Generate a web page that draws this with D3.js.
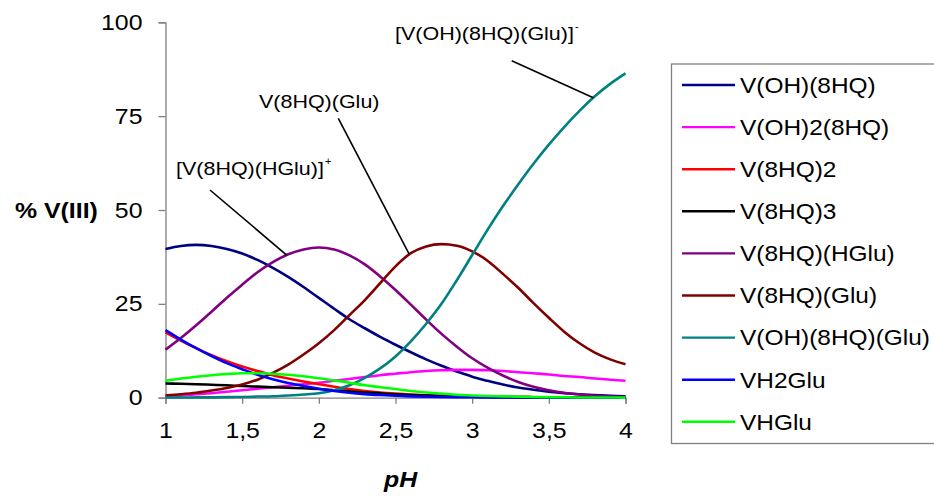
<!DOCTYPE html>
<html>
<head>
<meta charset="utf-8">
<script src="https://cdn.jsdelivr.net/npm/d3@7"></script>
<style>
  body { margin: 0; background: #fff; }
  svg { display: block; }
  text { font-family: "Liberation Sans", Arial, sans-serif; fill: #000; }
</style>
</head>
<body>
<svg id="chart" width="934" height="498"></svg>
<script>
// ---- data ----
const pH = [1.0,1.1,1.2,1.3,1.4,1.5,1.6,1.7,1.8,1.9,2.0,2.1,2.2,2.3,2.4,2.5,2.6,2.7,2.8,2.9,3.0,3.1,3.2,3.3,3.4,3.5,3.6,3.7,3.8,3.9,4.0];

const vOH8HQ      = [39.6,40.4,40.7,40.4,39.6,38.4,36.7,34.6,32.2,29.5,26.6,23.7,20.9,18.5,16.2,14.1,12.1,10.2,8.5,7.0,5.6,4.5,3.5,2.7,2.1,1.6,1.2,0.9,0.7,0.5,0.4];
const vOH2_8HQ    = [0.4,0.6,0.9,1.2,1.6,2.0,2.4,2.8,3.2,3.6,4.0,4.5,5.0,5.5,6.0,6.4,6.8,7.1,7.3,7.4,7.4,7.3,7.1,6.8,6.5,6.2,5.8,5.5,5.1,4.8,4.5];
const v8HQ2       = [17.4,15.2,13.2,11.3,9.7,8.3,7.1,6.0,5.1,4.3,3.6,2.9,2.3,1.8,1.4,1.1,0.85,0.65,0.5,0.4,0.3,0.25,0.2,0.16,0.13,0.1,0.08,0.07,0.06,0.05,0.05];
const v8HQ3       = [3.8,3.7,3.6,3.45,3.3,3.1,2.95,2.8,2.65,2.5,2.3,2.0,1.7,1.4,1.15,0.9,0.7,0.55,0.45,0.37,0.3,0.25,0.2,0.16,0.13,0.1,0.08,0.06,0.05,0.04,0.03];
const v8HQHGlu    = [12.8,15.9,19.3,22.9,26.6,30.1,33.4,36.1,38.2,39.5,40.0,39.5,37.9,35.5,32.3,28.7,24.8,20.8,17.0,13.6,10.5,8.0,5.9,4.2,2.9,2.0,1.3,0.85,0.53,0.33,0.2];
const v8HQGlu     = [0.6,0.9,1.3,1.9,2.6,3.5,4.8,6.6,8.8,11.5,14.5,18.0,22.0,26.0,30.5,35.0,38.5,40.3,40.9,40.5,39.0,36.5,33.0,29.3,25.2,21.3,17.6,14.5,12.0,10.2,8.9];
const vOH8HQGlu   = [0.05,0.06,0.08,0.1,0.14,0.2,0.3,0.4,0.6,0.85,1.2,2.0,3.3,5.3,7.8,11.0,15.0,19.7,25.0,31.3,38.0,44.7,51.0,56.8,62.3,67.4,72.1,76.4,80.3,83.6,86.4];
const vH2Glu      = [18.0,15.5,13.2,11.1,9.2,7.6,6.1,4.9,3.9,3.1,2.4,1.8,1.3,0.95,0.7,0.5,0.35,0.25,0.18,0.13,0.1,0.08,0.06,0.05,0.04,0.03,0.02,0.02,0.01,0.01,0.01];
const vHGlu       = [4.5,5.1,5.6,6.0,6.3,6.5,6.5,6.4,6.1,5.7,5.2,4.6,4.0,3.3,2.8,2.3,1.8,1.4,1.1,0.8,0.6,0.45,0.35,0.25,0.18,0.13,0.1,0.07,0.05,0.04,0.03];

const seriesNames  = ["V(OH)(8HQ)","V(OH)2(8HQ)","V(8HQ)2","V(8HQ)3","V(8HQ)(HGlu)","V(8HQ)(Glu)","V(OH)(8HQ)(Glu)","VH2Glu","VHGlu"];
const seriesValues = [vOH8HQ, vOH2_8HQ, v8HQ2, v8HQ3, v8HQHGlu, v8HQGlu, vOH8HQGlu, vH2Glu, vHGlu];
const seriesColors = ["#000080","#FF00FF","#FF0000","#000000","#800080","#800000","#008080","#0000FF","#00FF00"];

const xTicks = [1,1.5,2,2.5,3,3.5,4];
const xTickLabels = ["1","1,5","2","2,5","3","3,5","4"];
const yTicks = [0,25,50,75,100];

// annotations: label, superscript, series index and pH where the leader touches the curve
const annotations = [
  {text:"[V(OH)(8HQ)(Glu)]", sup:"-", series:6, at:3.79},
  {text:"V(8HQ)(Glu)", sup:"", series:5, at:2.59},
  {text:"[V(8HQ)(HGlu)]", sup:"+", series:4, at:1.79}
];

// ---- layout ----
const svg = d3.select("#chart");
const x = d3.scaleLinear().domain([1,4]).range([165.5,625.5]);
const y = d3.scaleLinear().domain([0,100]).range([397.7,22.3]);
const STRETCH = 1.13;
const axisColor = "#808080";

// axes
const gx = svg.append("g").attr("transform",`translate(0,${y(0)})`)
  .call(d3.axisBottom(x).tickValues(xTicks).tickFormat((d,i)=>xTickLabels[i]).tickSize(6).tickPadding(19));
const gy = svg.append("g").attr("transform",`translate(${x(1)},0)`)
  .call(d3.axisLeft(y).tickValues(yTicks).tickSize(7).tickPadding(16));
[gx,gy].forEach(g=>{
  g.select(".domain").attr("stroke",axisColor).attr("stroke-width",1.3);
  g.selectAll(".tick line").attr("stroke",axisColor).attr("stroke-width",1.3);
  g.selectAll(".tick text").attr("font-size",22).attr("font-family","Liberation Sans, Arial, sans-serif").attr("fill","#000");
});

// curves
const line = d3.line().x((d,i)=>x(pH[i])).y(d=>y(d)).curve(d3.curveMonotoneX);
const gLines = svg.append("g");
seriesValues.forEach((vals,k)=>{
  gLines.append("path").datum(vals)
    .attr("d",line).attr("fill","none")
    .attr("stroke",seriesColors[k]).attr("stroke-width",2.6)
    .attr("stroke-linejoin","round");
});

// annotation leaders & labels
function valAt(series, p){
  const vals = seriesValues[series];
  const i = Math.min(pH.length-2, Math.floor((p-1)/0.1+1e-9));
  const t = (p - pH[i])/(pH[i+1]-pH[i]);
  return vals[i]*(1-t)+vals[i+1]*t;
}
const labelPos = [
  {tx:395, ty:40, lx:511.7, ly:60.7, fs:19},
  {tx:259, ty:107.5, lx:338.3, ly:118.3, fs:19},
  {tx:176, ty:174.5, lx:210, ly:190, fs:19}
];
const labelNodes = [];
annotations.forEach((a,i)=>{
  const p = labelPos[i];
  svg.append("line").attr("x1",p.lx).attr("y1",p.ly)
    .attr("x2",x(a.at)).attr("y2",y(valAt(a.series,a.at)))
    .attr("stroke","#000").attr("stroke-width",1.6);
  const t = svg.append("text").attr("class","stretch").attr("x",p.tx).attr("y",p.ty)
    .attr("font-size",p.fs).text(a.text);
  labelNodes.push(t);
});

// axis titles
svg.append("text").attr("class","stretch").attr("x",15).attr("y",217.5)
  .attr("font-size",22).attr("font-weight","bold").text("% V(III)");
svg.append("text").attr("class","stretch").attr("x",384).attr("y",487)
  .attr("font-size",22).attr("font-weight","bold").attr("font-style","italic").text("pH");

// legend
const lg = svg.append("g");
lg.append("rect").attr("x",671.5).attr("y",64).attr("width",280).attr("height",379.5)
  .attr("fill","#fff").attr("stroke","#808080").attr("stroke-width",1.3);
seriesNames.forEach((name,k)=>{
  const cy = 85 + k*42.1;
  lg.append("line").attr("x1",682).attr("x2",735).attr("y1",cy).attr("y2",cy)
    .attr("stroke",seriesColors[k]).attr("stroke-width",2.4);
  lg.append("text").attr("class","stretch legend").attr("x",740).attr("y",cy+7.8)
    .attr("font-size",22).text(name);
});

// horizontal stretch of all text to match reference proportions
gx.selectAll(".tick text").classed("stretch",true);
gy.selectAll(".tick text").classed("stretch",true);
svg.selectAll("text.stretch").each(function(){
  const L = this.getComputedTextLength();
  const f = this.classList.contains("legend") ? 1.11 : STRETCH;
  d3.select(this).attr("textLength",L*f).attr("lengthAdjust","spacingAndGlyphs");
});
// superscripts after their labels
annotations.forEach((a,i)=>{
  if(!a.sup) return;
  const p = labelPos[i];
  const w = +labelNodes[i].attr("textLength");
  svg.append("text").attr("x",p.tx + w + 1).attr("y",p.ty-10).attr("font-size",11).text(a.sup);
});
</script>
</body>
</html>
